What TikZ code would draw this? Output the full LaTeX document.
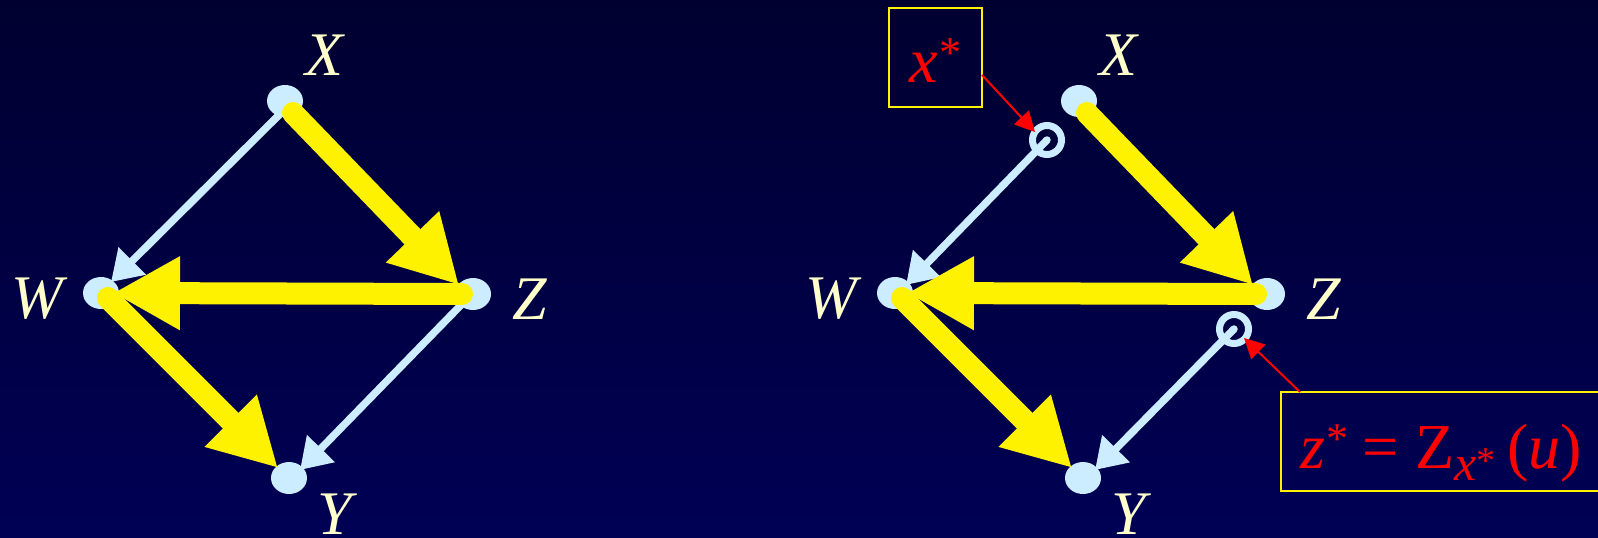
\documentclass[tikz,border=0pt]{standalone}
\usepackage{fontspec}
\setmainfont{Liberation Serif}
\usetikzlibrary{arrows.meta,shapes.geometric}
\definecolor{nodeblue}{HTML}{CCECFF}
\definecolor{cream}{HTML}{FFFFCC}
\definecolor{bgtop}{HTML}{000030}
\definecolor{bgbot}{HTML}{000055}
\begin{document}
\begin{tikzpicture}[x=1pt,y=-1pt,
  dot/.style={ellipse, fill=nodeblue, minimum width=36pt, minimum height=32pt, inner sep=0pt},
  ring/.style={circle, draw=nodeblue, line width=7pt, minimum size=29pt, inner sep=0pt},
  lab/.style={text=cream, font=\fontsize{62}{62}\selectfont\itshape, inner sep=0pt},
  yarrow/.style={yellow, line width=22pt, line cap=round, -{Triangle[length=67pt,width=69pt]}},
  barrow/.style={nodeblue, line width=7.5pt, line cap=round, -{Triangle[length=30pt,width=37pt]}},
  rarrow/.style={red, line width=2pt, -{Triangle[length=20pt,width=20pt]}},
  tbox/.style={draw=yellow, line width=2.5pt, inner sep=0pt, outer sep=0pt},
  rtext/.style={text=red, inner sep=0pt, anchor=base west, font=\fontsize{64}{64}\selectfont}
]
\useasboundingbox (0,0) rectangle (1598,538);
\shade[top color=bgtop, bottom color=bgbot] (0,0) rectangle (1598,538);
\clip (0,0) rectangle (1598,538);

% left diagram nodes
\node[dot] (X) at (285,101) {};
\node[dot] (W) at (101,293) {};
\node[dot] (Z) at (473,294) {};
\node[dot] (Y) at (289,478) {};
% right diagram nodes
\node[dot] (X2) at (1079,101) {};
\node[dot] (W2) at (895,293) {};
\node[dot] (Z2) at (1267,294) {};
\node[dot] (Y2) at (1083,478) {};

% blue arrows
\draw[barrow] ([shift={(-5,13)}]X.center) -- ([shift={(10,-11)}]W.center);
\draw[barrow] ([shift={(-12,11)}]Z.center) -- ([shift={(11,-8)}]Y.center);
\coordinate (xcc) at (1047,140);
\coordinate (zcc) at (1234,329);
\draw[barrow] (xcc) -- ([shift={(11,-8)}]W2.center);
\draw[barrow] (zcc) -- ([shift={(12,-8)}]Y2.center);
\node[ring] (xc) at (xcc) {};
\node[ring] (zc) at (zcc) {};

% yellow arrows
\draw[yarrow] ([shift={(8,12)}]X.center) -- ([shift={(-14,-9)}]Z.center);
\draw[yarrow] ([shift={(-11,0)}]Z.center) -- ([shift={(12,0)}]W.center);
\draw[yarrow] ([shift={(7,5)}]W.center) -- ([shift={(-11,-10)}]Y.center);
\draw[yarrow] ([shift={(8,12)}]X2.center) -- ([shift={(-14,-9)}]Z2.center);
\draw[yarrow] ([shift={(-11,0)}]Z2.center) -- ([shift={(12,0)}]W2.center);
\draw[yarrow] ([shift={(7,5)}]W2.center) -- ([shift={(-11,-10)}]Y2.center);

% labels
\node[lab] (Xl) at (324,55) {X};
\node[lab] (Wl) at (37,299) {W};
\node[lab] (Zl) at (530,299) {Z};
\node[lab] (Yl) at (335,514) {Y};
\node[lab] (Xl2) at (1118,55) {X};
\node[lab] (Wl2) at (831,299) {W};
\node[lab] (Zl2) at (1324,299) {Z};
\node[lab] (Yl2) at (1129,514) {Y};

% annotation boxes
\node[tbox, minimum width=93pt, minimum height=99pt] (xbox) at (935.5,57.5) {};
\node[rtext] (xtxt) at (909,82) {\textit{x}\hspace{2pt}\raisebox{15pt}{\fontsize{44}{44}\selectfont *}};
\node[tbox, minimum width=339pt, minimum height=99pt] (zbox) at (1450.5,441.5) {};
\node[rtext] (ztxt) at (1300,468) {\textit{z}\hspace{1pt}\raisebox{15pt}{\fontsize{44}{44}\selectfont *}\hspace{14pt}=\hspace{17pt}Z\raisebox{-12pt}{\fontsize{50}{50}\selectfont\textit{x}\raisebox{7pt}{\fontsize{38}{38}\selectfont *}}\hspace{12pt}(\textit{u})};

% red pointers
\draw[rarrow] ([shift={(0,17.5)}]xbox.east) -- ([shift={(-12,-8)}]xc.center);
\draw[rarrow] ([shift={(-150.5,0)}]zbox.north) -- ([shift={(10,9)}]zc.center);
\end{tikzpicture}
\end{document}
